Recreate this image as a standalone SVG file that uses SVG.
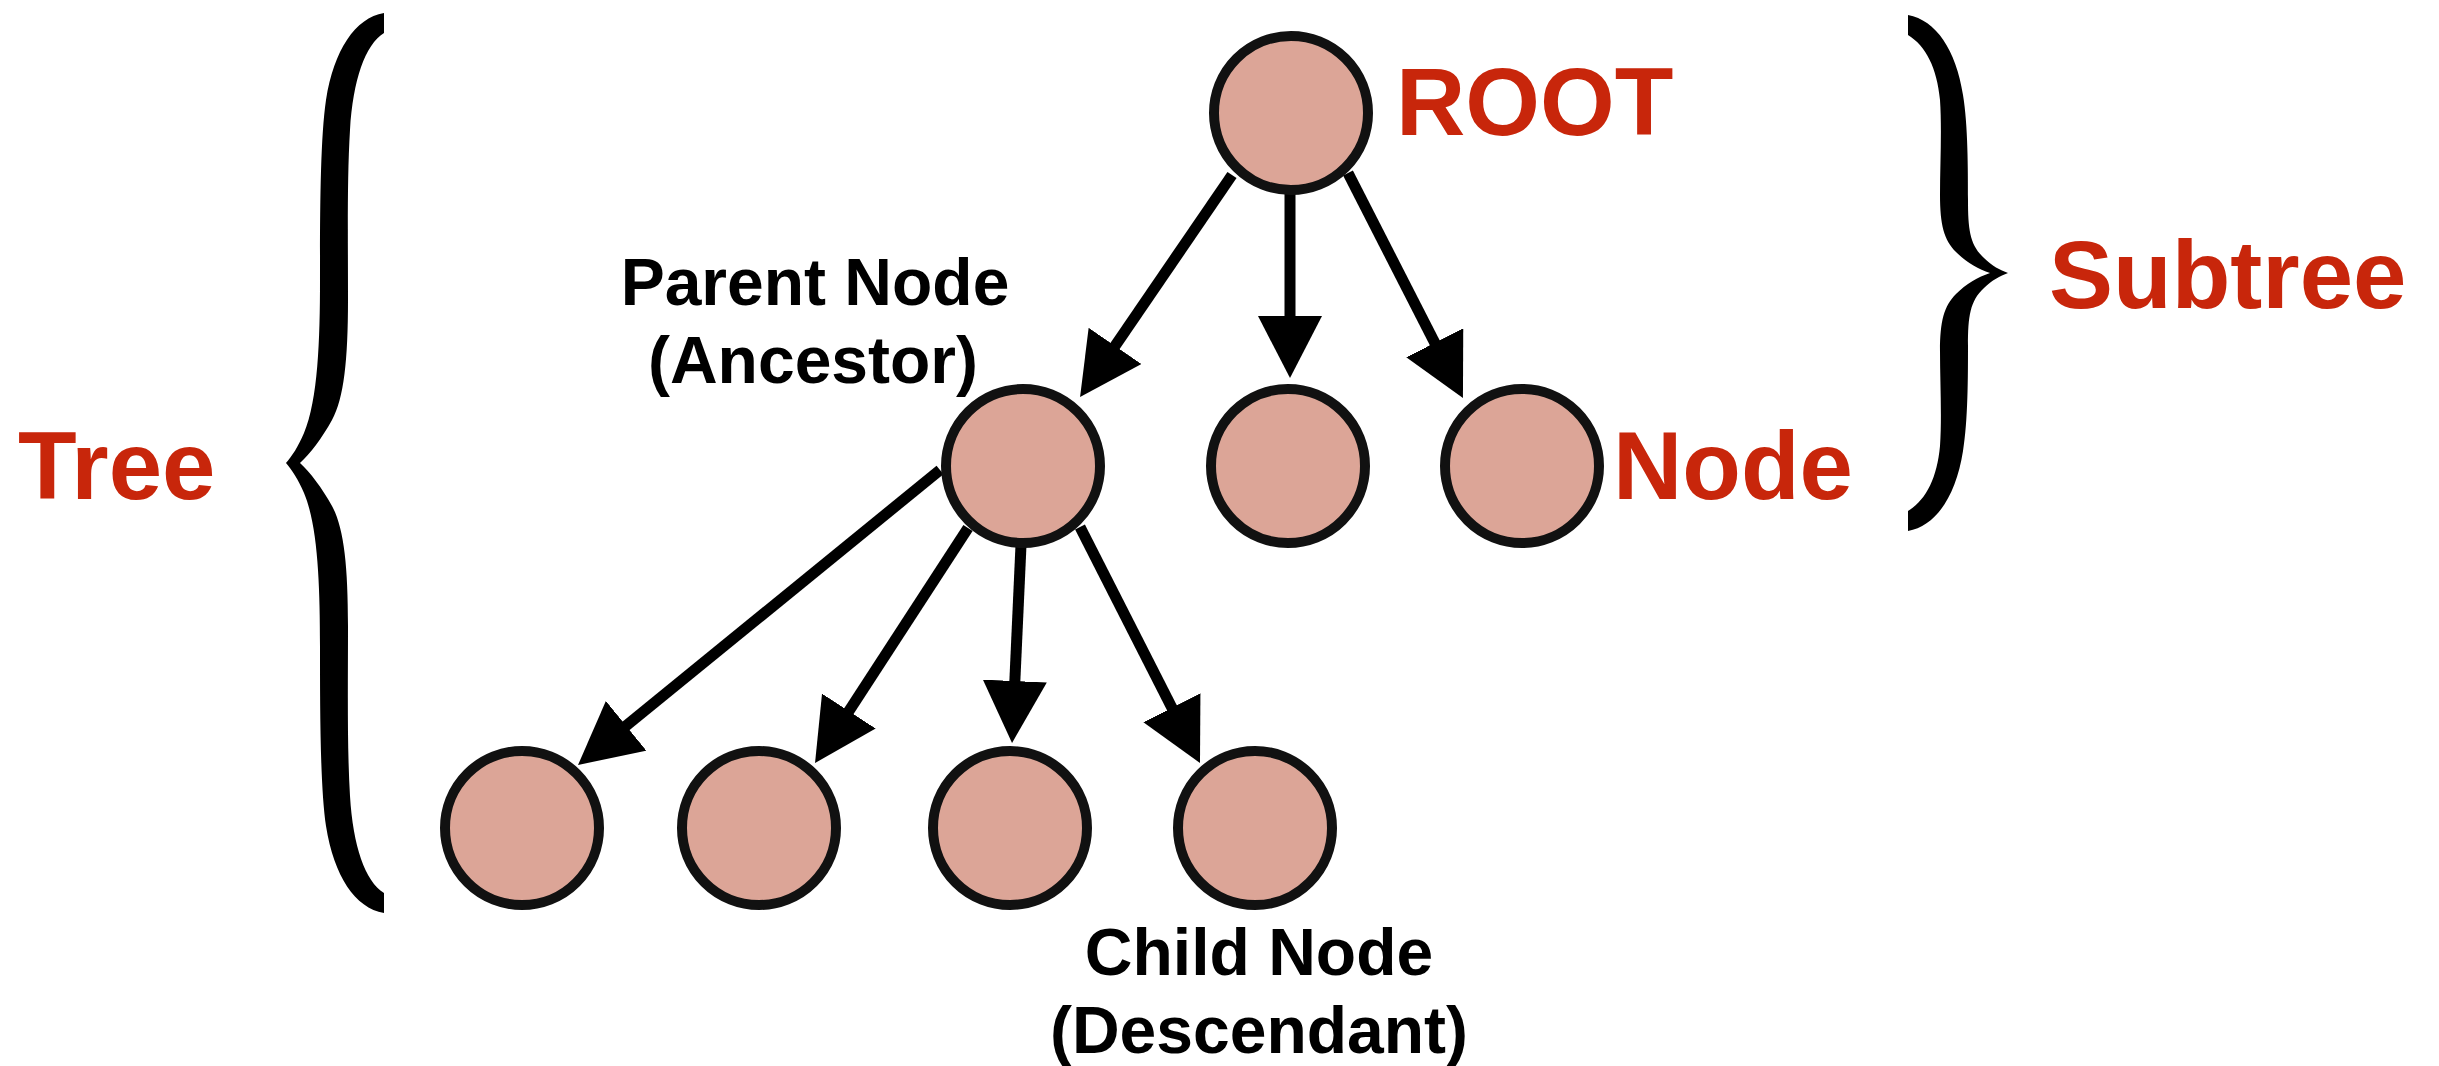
<svg xmlns="http://www.w3.org/2000/svg" width="2439" height="1066" viewBox="0 0 2439 1066">
  <style>
    .node { fill: #DCA597; stroke: #111; stroke-width: 10; }
    .edge { stroke: #000; stroke-width: 11; fill: none; marker-end: url(#head); }
    .brace { fill: #000; }
    .term { font-family: "Liberation Sans", Arial, Helvetica, sans-serif; font-weight: bold; font-size: 96px; fill: #C8260B; }
    .note { font-family: "Liberation Sans", Arial, Helvetica, sans-serif; font-weight: bold; font-size: 66px; fill: #000; text-anchor: middle; }
  </style>
  <defs>
    <marker id="head" markerUnits="userSpaceOnUse" viewBox="0 0 62 64" markerWidth="62" markerHeight="64" refX="32" refY="32" orient="auto">
      <path d="M0,0 L62,32 L0,64 Z" fill="#000"/>
    </marker>
  </defs>
  <rect width="2439" height="1066" fill="#fff"/>

  <!-- curly braces -->
  <g id="brace-tree">
    <path class="brace" d="M384,13 C355,18 334,50 326,100 C320,140 320,220 320,280 C320,340 318,400 304,433 C298,447 292,456 286,463 C292,470 298,479 304,493 C318,526 320,586 320,646 C320,706 320,786 326,826 C334,876 355,908 384,913 L384,893 C365,881 353,846 350,796 C347,746 348,686 348,626 C348,566 344,528 332,506 C322,488 310,472 300,463 C310,454 322,438 332,420 C344,398 348,360 348,300 C348,240 347,180 350,130 C353,80 365,45 384,33 Z"/>
  </g>
  <g id="brace-subtree">
    <path class="brace" d="M1908,15 C1936,20 1956,50 1963,95 C1968,125 1968,170 1968,200 C1968,230 1970,245 1984,258 C1992,266 2000,270 2008,273 C2000,276 1992,280 1984,288 C1970,301 1968,316 1968,346 C1968,376 1968,421 1963,451 C1956,496 1936,526 1908,531 L1908,511 C1926,500 1937,478 1940,446 C1942,416 1940,381 1940,351 C1940,321 1944,306 1956,294 C1966,284 1978,277 1990,273 C1978,269 1966,262 1956,252 C1944,240 1940,225 1940,195 C1940,165 1942,130 1940,100 C1937,68 1926,46 1908,35 Z"/>
  </g>

  <!-- connectors -->
  <g id="edges">
    <line class="edge" x1="1232" y1="175" x2="1097" y2="372.3"/>
    <line class="edge" x1="1290" y1="193" x2="1290" y2="348"/>
    <line class="edge" x1="1348" y1="173" x2="1449.3" y2="371.3"/>
    <line class="edge" x1="940" y1="470" x2="601.3" y2="746"/>
    <line class="edge" x1="968" y1="528" x2="831.4" y2="737.9"/>
    <line class="edge" x1="1021" y1="545" x2="1013.4" y2="713"/>
    <line class="edge" x1="1080" y1="527" x2="1186.4" y2="736.3"/>
  </g>

  <!-- nodes -->
  <g id="root"><circle class="node" cx="1291" cy="113" r="77"/></g>
  <g id="parent"><circle class="node" cx="1023" cy="466" r="77"/></g>
  <g id="sibling"><circle class="node" cx="1288" cy="466" r="77"/></g>
  <g id="leaf-node"><circle class="node" cx="1522" cy="466" r="77"/></g>
  <g id="child-1"><circle class="node" cx="522" cy="828" r="77"/></g>
  <g id="child-2"><circle class="node" cx="759" cy="828" r="77"/></g>
  <g id="child-3"><circle class="node" cx="1010" cy="828" r="77"/></g>
  <g id="child-4"><circle class="node" cx="1255" cy="828" r="77"/></g>

  <!-- labels -->
  <g id="labels">
    <text class="term" x="18" y="499">Tree</text>
    <text class="term" x="1396" y="135">ROOT</text>
    <text class="term" x="1613" y="499">Node</text>
    <text class="term" x="2049" y="308">Subtree</text>
    <text class="note" x="815" y="305">Parent Node</text>
    <text class="note" x="813" y="383">(Ancestor)</text>
    <text class="note" x="1259" y="975">Child Node</text>
    <text class="note" x="1259" y="1053">(Descendant)</text>
  </g>
</svg>
